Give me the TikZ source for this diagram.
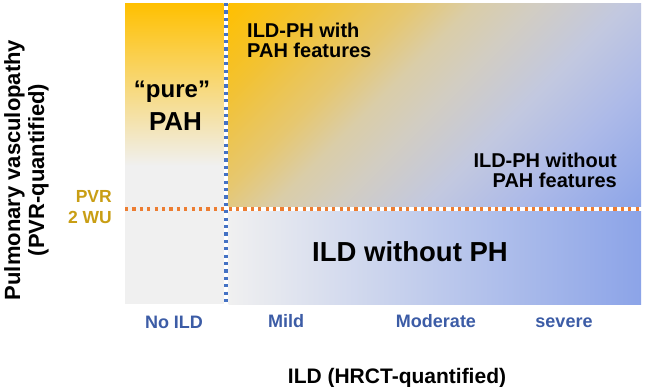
\documentclass[tikz,border=0pt]{standalone}
\usepackage{fontspec}
\setmainfont{Liberation Sans}
\definecolor{gold}{HTML}{FFC000}
\definecolor{lgray}{HTML}{F0F0F0}
\definecolor{pblue}{HTML}{8CA4E8}
\definecolor{dotblue}{HTML}{4472C4}
\definecolor{dotorange}{HTML}{ED7D31}
\definecolor{pvrcol}{HTML}{C99E14}
\definecolor{axblue}{HTML}{3C5CA6}
\definecolor{sA}{HTML}{FFC000}
\definecolor{sB}{HTML}{F2C234}
\definecolor{sC}{HTML}{E6C770}
\definecolor{sD}{HTML}{DACDA8}
\definecolor{sE}{HTML}{D2CDC2}
\definecolor{sF}{HTML}{C2C8E0}
\definecolor{sG}{HTML}{ADBAE8}
\definecolor{sH}{HTML}{8DA5E8}
\pgfdeclareverticalshading{diagshade}{100bp}{color(0bp)=(sH); color(14.6bp)=(sH); color(28.8bp)=(sG); color(39.4bp)=(sF); color(50bp)=(sE); color(57.1bp)=(sD); color(64.2bp)=(sC); color(74.8bp)=(sB); color(85.4bp)=(sA); color(100bp)=(sA)}
\tikzset{
  dotline/.style={line width=3.2pt, dash pattern=on 3.2pt off 4.2pt},
  big/.style={font=\bfseries\fontsize{27.5}{30}\selectfont, inner sep=0pt},
  mid/.style={font=\bfseries\fontsize{20}{20}\selectfont, inner sep=0pt},
  tick/.style={font=\bfseries\fontsize{18}{20}\selectfont, text=axblue, inner sep=0pt, anchor=base},
  pvr/.style={font=\bfseries\fontsize{17.5}{20}\selectfont, text=pvrcol, inner sep=0pt, anchor=base east},
  ylab/.style={font=\bfseries\fontsize{22}{24}\selectfont, inner sep=0pt, rotate=90, anchor=base},
}
\begin{document}
\begin{tikzpicture}[x=1pt,y=-1pt]
\useasboundingbox (0,0) rectangle (645,386);
\fill[white] (0,0) rectangle (645,386);
% left panel
\shade[top color=gold, bottom color=lgray] (125,3) rectangle (223.5,166);
\fill[lgray] (125,165.5) rectangle (223.5,304);
% upper right panel
\shade[shading=diagshade, shading angle=45] (228.5,3) rectangle (641,206.5);
% lower right panel
\shade[left color=lgray, right color=pblue] (228.5,211.5) rectangle (641,304);
% dividing lines
\coordinate (vtop) at (226,3);
\coordinate (vbot) at (226,305);
\coordinate (hleft) at (125,209);
\coordinate (hright) at (641,209);
\draw[dotline, dotorange] (hleft) -- (hright);
\draw[dotline, dotblue] (vtop) -- (vbot);
% region labels
\node[font=\bfseries\fontsize{24}{26}\selectfont, inner sep=0pt, anchor=base] (pure) at (172,97) {“pure”};
\node[font=\bfseries\fontsize{26}{28}\selectfont, inner sep=0pt, anchor=base] (pah) at (175.5,130) {PAH};
\node[mid, anchor=base west] (w1) at (247,37) {ILD-PH with};
\node[mid, anchor=base west] (w2) at (247,57) {PAH features};
\node[mid, anchor=base east] (wo1) at (617,167) {ILD-PH without};
\node[mid, anchor=base east] (wo2) at (617,187) {PAH features};
\node[big, anchor=base] (nph) at (410,261) {ILD without PH};
% PVR threshold
\node[pvr] (pvr1) at (112,202) {PVR};
\node[pvr] (pvr2) at (112,223) {2 WU};
% x ticks
\node[tick] (t0) at (174,328) {No ILD};
\node[tick] (t1) at (286,327) {Mild};
\node[tick] (t2) at (436,327) {Moderate};
\node[tick] (t3) at (564,327) {severe};
% axis titles
\node[font=\bfseries\fontsize{21}{24}\selectfont, inner sep=0pt, anchor=base] (xlab) at (397,383) {ILD (HRCT-quantified)};
\node[ylab] (yl1) at (20,170) {Pulmonary vasculopathy};
\node[ylab] (yl2) at (44,170) {(PVR-quantified)};
\end{tikzpicture}
\end{document}
